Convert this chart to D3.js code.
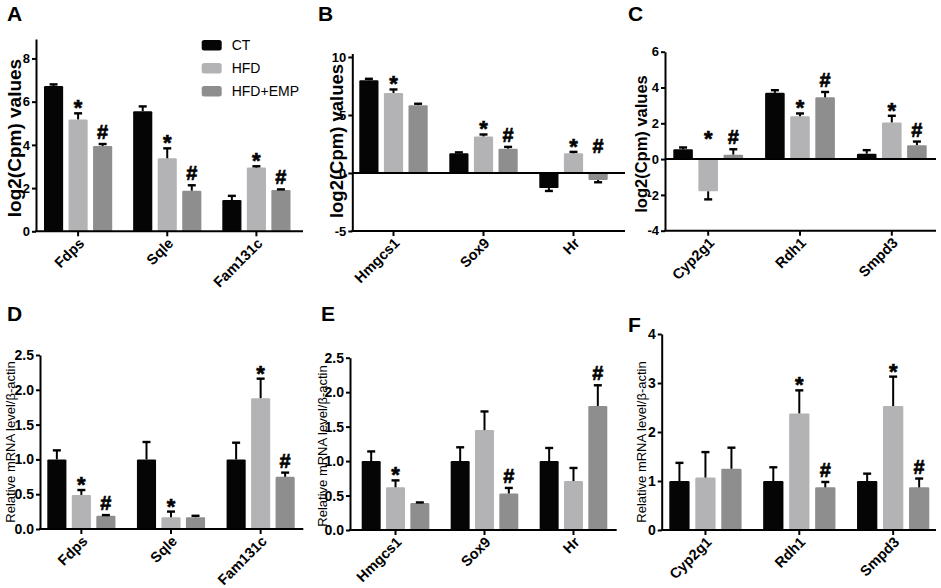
<!DOCTYPE html>
<html><head><meta charset="utf-8">
<script src="https://cdn.jsdelivr.net/npm/d3@7"></script>
<style>
html,body{margin:0;padding:0;background:#fff;}
svg{display:block;font-family:"Liberation Sans",Arial,sans-serif;}
</style></head>
<body>
<svg id="chart" width="941" height="588"></svg>
<script>
// ---------- DATA ----------
const groups = ["CT", "HFD", "HFD+EMP"];

const catsA = ["Fdps", "Sqle", "Fam131c"];
const meanA = [[6.72, 5.18, 3.95], [5.56, 3.38, 1.88], [1.45, 2.95, 1.91]];
const errA  = [[0.08, 0.28, 0.09], [0.22, 0.46, 0.25], [0.19, 0.06, 0.03]];
const sigA  = [["", "*", "#"], ["", "*", "#"], ["", "*", "#"]];

const catsB = ["Hmgcs1", "Sox9", "Hr"];
const meanB = [[8.0, 6.9, 5.85], [1.7, 3.15, 2.1], [-1.3, 1.7, -0.6]];
const errB  = [[0.12, 0.3, 0.12], [0.08, 0.17, 0.15], [0.25, 0.12, 0.2]];
const sigB  = [["", "*", ""], ["", "*", "#"], ["", "*", "#"]];

const catsC = ["Cyp2g1", "Rdh1", "Smpd3"];
const meanC = [[0.55, -1.8, 0.25], [3.7, 2.4, 3.45], [0.3, 2.05, 0.78]];
const errC  = [[0.1, 0.45, 0.3], [0.15, 0.15, 0.3], [0.2, 0.37, 0.2]];
const sigC  = [["", "*", "#"], ["", "*", "#"], ["", "*", "#"]];

const catsD = ["Fdps", "Sqle", "Fam131c"];
const meanD = [[1.0, 0.49, 0.19], [1.0, 0.17, 0.17], [1.0, 1.88, 0.75]];
const errD  = [[0.13, 0.07, 0.01], [0.25, 0.08, 0.02], [0.24, 0.28, 0.06]];
const sigD  = [["", "*", "#"], ["", "*", ""], ["", "*", "#"]];

const catsE = ["Hmgcs1", "Sox9", "Hr"];
const meanE = [[1.0, 0.62, 0.39], [1.0, 1.45, 0.53], [1.0, 0.71, 1.8]];
const errE  = [[0.14, 0.1, 0.01], [0.2, 0.27, 0.08], [0.19, 0.19, 0.3]];
const sigE  = [["", "*", ""], ["", "", "#"], ["", "", "#"]];

const catsF = ["Cyp2g1", "Rdh1", "Smpd3"];
const meanF = [[1.0, 1.07, 1.25], [1.0, 2.38, 0.87], [1.0, 2.53, 0.87]];
const errF  = [[0.37, 0.52, 0.43], [0.28, 0.47, 0.11], [0.15, 0.6, 0.18]];
const sigF  = [["", "", ""], ["", "*", "#"], ["", "*", "#"]];

const ticksA = [0, 2, 4, 6, 8];
const ticksB = [-5, 0, 5, 10];
const ticksC = [-4, -2, 0, 2, 4, 6];
const ticksD = [0, 0.5, 1.0, 1.5, 2.0, 2.5];
const ticksE = [0, 0.5, 1.0, 1.5, 2.0, 2.5];
const ticksF = [0, 1, 2, 3, 4];

const labelTop = "log2(Cpm) values";
const labelBottom = "Relative mRNA level/β-actin";

// ---------- STYLE / LAYOUT ----------
const colors = {"CT": "#050505", "HFD": "#b3b3b5", "HFD+EMP": "#8e8e8e"};
const svg = d3.select("#chart");

function drawPanel(cfg) {
  const g = svg.append("g");
  const y = d3.scaleLinear().domain(cfg.yDomain).range(cfg.yRange);
  const x = d3.scaleBand().domain(cfg.cats).range(cfg.barRange)
    .paddingInner(cfg.padInner).paddingOuter(0);
  const xs = d3.scaleBand().domain(groups).range([0, x.bandwidth()]).paddingInner(0.22);

  const axisY = y(cfg.yDomain[0]);

  cfg.cats.forEach((c, i) => {
    groups.forEach((gr, j) => {
      const v = cfg.mean[i][j], e = cfg.err[i][j];
      const bx = x(c) + xs(gr);
      const bw = xs.bandwidth();
      g.append("rect")
        .attr("x", bx).attr("width", bw)
        .attr("y", Math.min(y(v), y(0)))
        .attr("height", Math.abs(y(v) - y(0)))
        .attr("rx", 1.2)
        .attr("fill", colors[gr]);
      const cap = v >= 0 ? v + e : v - e;
      const cx = bx + bw / 2;
      g.append("line").attr("x1", cx).attr("x2", cx)
        .attr("y1", y(v)).attr("y2", y(cap))
        .attr("stroke", "#000").attr("stroke-width", 2);
      g.append("line").attr("x1", cx - 4).attr("x2", cx + 4)
        .attr("y1", y(cap)).attr("y2", y(cap))
        .attr("stroke", "#000").attr("stroke-width", 2.4);
      const s = cfg.sig[i][j];
      if (s) {
        const anchor = v >= 0 ? y(cap) : y(0) - 15;
        const isStar = s === "*";
        g.append("text")
          .attr("x", cx).attr("y", isStar ? anchor + 2 : anchor - 5)
          .attr("text-anchor", "middle")
          .attr("font-weight", "bold")
          .attr("font-size", isStar ? 22 : 20)
          .attr("fill", "#000")
          .attr("stroke", "#000").attr("stroke-width", 0.6)
          .text(s);
      }
    });
  });

  if (cfg.yDomain[0] < 0) {
    g.append("line").attr("x1", cfg.left).attr("x2", cfg.right)
      .attr("y1", y(0)).attr("y2", y(0))
      .attr("stroke", "#000").attr("stroke-width", 2);
  }

  const ya = g.append("g").attr("transform", `translate(${cfg.left},0)`)
    .call(d3.axisLeft(y).tickValues(cfg.ticks).tickSize(4).tickSizeOuter(0)
      .tickPadding(2).tickFormat(cfg.fmt));
  ya.select(".domain").attr("stroke-width", 2);
  ya.selectAll(".tick line").attr("stroke-width", 2);
  ya.selectAll("text").attr("font-size", cfg.tickFont).attr("font-weight", "bold")
    .attr("fill", "#000").attr("font-family", "Liberation Sans, Arial, sans-serif");

  const xa = g.append("g").attr("transform", `translate(0,${axisY})`)
    .call(d3.axisBottom(x).tickSize(5).tickSizeOuter(0));
  xa.select(".domain").remove();
  xa.selectAll(".tick line").attr("stroke-width", 2);
  xa.selectAll("text")
    .attr("x", 0).attr("y", 0).attr("dy", 0)
    .attr("text-anchor", "end")
    .attr("transform", "translate(7,13) rotate(-45)")
    .attr("font-size", 14.5).attr("font-weight", "bold")
    .attr("fill", "#000").attr("font-family", "Liberation Sans, Arial, sans-serif");
  g.append("line").attr("x1", cfg.left - 1).attr("x2", cfg.right)
    .attr("y1", axisY).attr("y2", axisY)
    .attr("stroke", "#000").attr("stroke-width", 2);

  g.append("text")
    .attr("transform", `translate(${cfg.labelX},${cfg.labelY}) rotate(-90)`)
    .attr("text-anchor", "middle").attr("dy", "0.35em")
    .attr("font-size", cfg.labelFont)
    .attr("font-weight", cfg.labelBold ? "bold" : "normal")
    .attr("fill", "#000")
    .text(cfg.label);

  g.append("text").attr("x", cfg.letterX).attr("y", cfg.letterY)
    .attr("font-size", 21).attr("font-weight", "bold").attr("fill", "#000")
    .text(cfg.letter);
}

const intFmt = d => String(d);
const decFmt = d3.format(".1f");

drawPanel({letter: "A", letterX: 7, letterY: 21, cats: catsA, mean: meanA, err: errA, sig: sigA,
  yDomain: [0, 8.9], yRange: [231.3, 39], ticks: ticksA, fmt: intFmt, tickFont: 13,
  left: 36, right: 303, barRange: [44, 290.5], padInner: 0.235,
  label: labelTop, labelX: 14, labelY: 138, labelFont: 19, labelBold: true});

drawPanel({letter: "B", letterX: 318, letterY: 21, cats: catsB, mean: meanB, err: errB, sig: sigB,
  yDomain: [-5, 10.3], yRange: [231, 53.5], ticks: ticksB, fmt: intFmt, tickFont: 13,
  left: 352.3, right: 625, barRange: [359.3, 607.7], padInner: 0.24,
  label: labelTop, labelX: 337, labelY: 141, labelFont: 18.5, labelBold: true});

drawPanel({letter: "C", letterX: 628, letterY: 21, cats: catsC, mean: meanC, err: errC, sig: sigC,
  yDomain: [-4, 6], yRange: [230.7, 51.7], ticks: ticksC, fmt: intFmt, tickFont: 13,
  left: 665, right: 936, barRange: [673.3, 926.7], padInner: 0.24,
  label: labelTop, labelX: 641, labelY: 144, labelFont: 16.5, labelBold: true});

drawPanel({letter: "D", letterX: 7, letterY: 321, cats: catsD, mean: meanD, err: errD, sig: sigD,
  yDomain: [0, 2.5], yRange: [529, 355], ticks: ticksD, fmt: decFmt, tickFont: 14,
  left: 40, right: 303.3, barRange: [47.3, 294.7], padInner: 0.24,
  label: labelBottom, labelX: 10, labelY: 442, labelFont: 13, labelBold: false});

drawPanel({letter: "E", letterX: 321, letterY: 321, cats: catsE, mean: meanE, err: errE, sig: sigE,
  yDomain: [0, 2.5], yRange: [530, 357.7], ticks: ticksE, fmt: decFmt, tickFont: 14,
  left: 350, right: 616.7, barRange: [361.7, 607.3], padInner: 0.24,
  label: labelBottom, labelX: 322, labelY: 446, labelFont: 13, labelBold: false});

drawPanel({letter: "F", letterX: 628, letterY: 332, cats: catsF, mean: meanF, err: errF, sig: sigF,
  yDomain: [0, 4], yRange: [530, 334], ticks: ticksF, fmt: intFmt, tickFont: 14,
  left: 661.7, right: 936, barRange: [669.3, 929.3], padInner: 0.23,
  label: labelBottom, labelX: 641, labelY: 442, labelFont: 13, labelBold: false});

const lg = svg.append("g").attr("transform", "translate(201.7,40)");
groups.forEach((gr, i) => {
  lg.append("rect").attr("x", 0).attr("y", i * 23).attr("width", 20).attr("height", 10.5)
    .attr("rx", 2.5).attr("fill", colors[gr]);
  lg.append("text").attr("x", 30).attr("y", i * 23 + 5.5).attr("dy", "0.35em")
    .attr("font-size", 14).attr("fill", "#000").text(gr);
});
</script>
</body></html>
